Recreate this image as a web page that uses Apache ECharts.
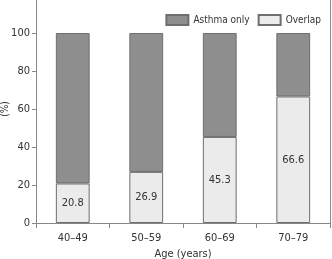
<!DOCTYPE html>
<html>
<head>
<meta charset="utf-8">
<script src="https://cdn.jsdelivr.net/npm/echarts@6/dist/echarts.min.js"></script>
<style>
html, body { margin: 0; padding: 0; background: #fff; }
#chart { width: 332px; height: 259px; }
</style>
</head>
<body>
<div id="chart"></div>
<script>
var categories = ['40–49', '50–59', '60–69', '70–79']
var overlap = [20.8, 26.9, 45.3, 66.6]
var asthmaOnly = [79.2, 73.1, 54.7, 33.4]
var yTicks = [0, 20, 40, 60, 80, 100]

var font = '"DejaVu Sans Condensed", "Liberation Sans Narrow", "Liberation Sans", sans-serif'
var myChart = echarts.init(document.getElementById('chart'))

var option = {
  animation: false,
  textStyle: { fontFamily: font },
  grid: { left: 36, right: 2, top: -5, bottom: 36, outerBoundsMode: 'none', containLabel: false },
  legend: {
    data: ['Asthma only', 'Overlap'],
    right: 6,
    top: 9,
    itemWidth: 22,
    itemHeight: 10,
    itemGap: 8,
    icon: 'rect',
    textStyle: { fontFamily: font, fontSize: 10, color: '#333' }
  },
  xAxis: {
    type: 'category',
    data: categories,
    name: 'Age (years)',
    nameLocation: 'middle',
    nameGap: 26,
    nameTextStyle: { fontFamily: font, fontSize: 11, color: '#333' },
    axisLine: { lineStyle: { color: '#888' } },
    axisTick: { show: true, length: 5, lineStyle: { color: '#888' } },
    axisLabel: { fontFamily: font, fontSize: 11, color: '#333', margin: 10 }
  },
  yAxis: [{
    type: 'value',
    min: 0,
    max: 120,
    interval: 20,
    name: '(%)',
    nameLocation: 'middle',
    nameGap: 26,
    nameMoveOverlap: false,
    nameTextStyle: { fontFamily: font, fontSize: 10, color: '#333' },
    splitLine: { show: false },
    axisLine: { show: true, lineStyle: { color: '#888' } },
    axisTick: { show: true, length: 4, lineStyle: { color: '#888' } },
    axisLabel: {
      fontFamily: font,
      fontSize: 11,
      color: '#333',
      margin: 6,
      formatter: function (v) { return yTicks.indexOf(v) >= 0 ? v : '' }
    }
  }, {
    type: 'value',
    min: 0,
    max: 120,
    interval: 20,
    position: 'right',
    splitLine: { show: false },
    axisLine: { show: true, lineStyle: { color: '#888' } },
    axisTick: { show: false },
    axisLabel: { show: false }
  }],
  series: [{
    name: 'Overlap',
    type: 'bar',
    stack: 'total',
    data: overlap,
    barWidth: '46%',
    itemStyle: { color: '#ebebeb', borderColor: '#6e6e6e', borderWidth: 1 },
    label: { show: true, position: 'inside', fontFamily: font, fontSize: 11, color: '#333' }
  }, {
    name: 'Asthma only',
    type: 'bar',
    stack: 'total',
    data: asthmaOnly,
    barWidth: '46%',
    itemStyle: { color: '#8e8e8e', borderColor: '#6e6e6e', borderWidth: 1 }
  }]
}

myChart.setOption(option)
</script>
</body>
</html>
